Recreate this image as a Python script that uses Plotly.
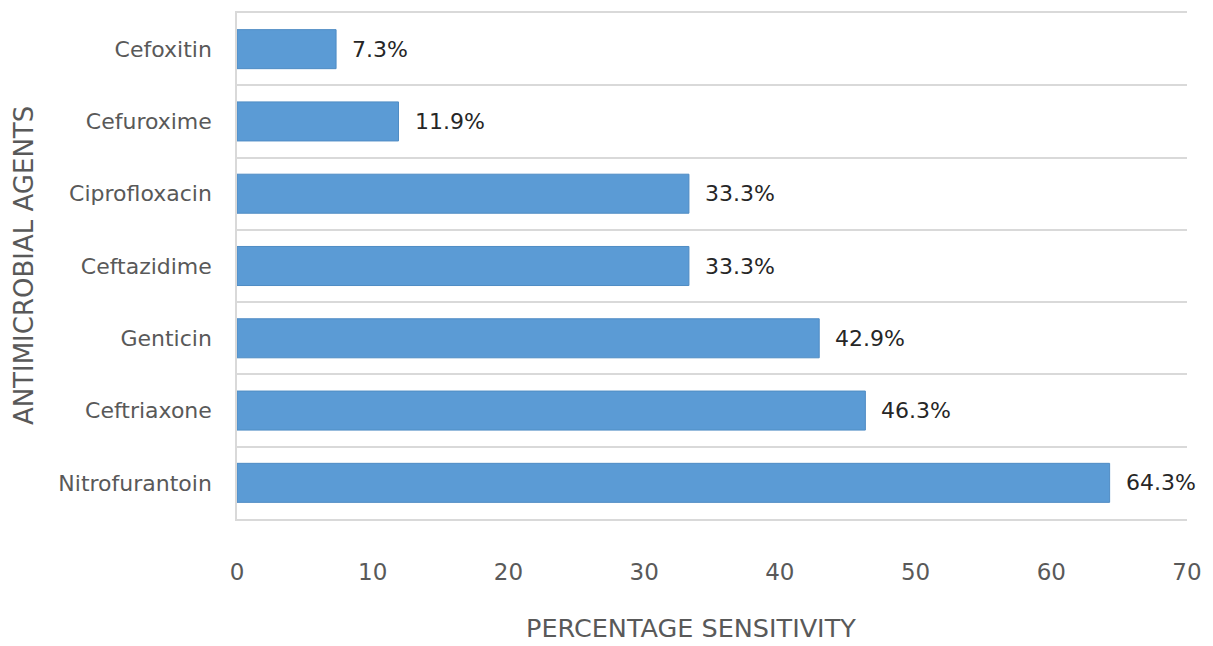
import plotly.graph_objects as go

agents = ["Nitrofurantoin", "Ceftriaxone", "Genticin", "Ceftazidime",
          "Ciprofloxacin", "Cefuroxime", "Cefoxitin"]
sensitivity = [64.3, 46.3, 42.9, 33.3, 33.3, 11.9, 7.3]
labels = [f"{v:.1f}%" for v in sensitivity]
x_ticks = [0, 10, 20, 30, 40, 50, 60, 70]

FONT = "DejaVu Sans"
GREY = "#595959"
GRID = "#D9D9D9"

fig = go.Figure(go.Bar(
    y=agents, x=sensitivity, orientation="h",
    marker=dict(color="#5B9BD5", line=dict(color="#4F8CC4", width=1)),
))

for a, v, t in zip(agents, sensitivity, labels):
    fig.add_annotation(x=v, y=a, text=t, xanchor="left", yanchor="middle",
                       xshift=14, showarrow=False,
                       font=dict(family=FONT, size=22, color="#262626"))

fig.update_layout(
    width=1213, height=646,
    margin=dict(l=237, r=21, t=11, b=127),
    paper_bgcolor="white", plot_bgcolor="white",
    bargap=0.46, showlegend=False,
    font=dict(family=FONT, size=22, color=GREY),
    xaxis=dict(range=[0, 70], tickvals=x_ticks, showgrid=False,
               zeroline=False, showline=True, mirror=True,
               linecolor=GRID, linewidth=1.5, ticks="",
               ticklabelstandoff=32,
               tickfont=dict(family=FONT, size=23, color=GREY)),
    yaxis=dict(type="category", categoryorder="array", categoryarray=agents,
               tickson="boundaries", showgrid=True, gridcolor=GRID,
               gridwidth=1.5, showline=True, linecolor=GRID,
               linewidth=1.5, ticks="", ticklabelstandoff=19,
               tickfont=dict(family=FONT, size=22, color=GREY)),
    annotations=list(fig.layout.annotations) + [
        dict(text="PERCENTAGE SENSITIVITY", xref="paper", yref="paper",
             x=(693 - 237) / (1192 - 237), y=-(628 - 519) / (519 - 11),
             xanchor="center", yanchor="middle", showarrow=False,
             font=dict(family=FONT, size=25.5, color=GREY)),
        dict(text="ANTIMICROBIAL AGENTS", xref="paper", yref="paper",
             x=-(237 - 23) / (1192 - 237), y=0.5, xanchor="center",
             yanchor="middle", textangle=-90, showarrow=False,
             font=dict(family=FONT, size=26, color=GREY)),
    ],
)

fig.write_html("out.html")
